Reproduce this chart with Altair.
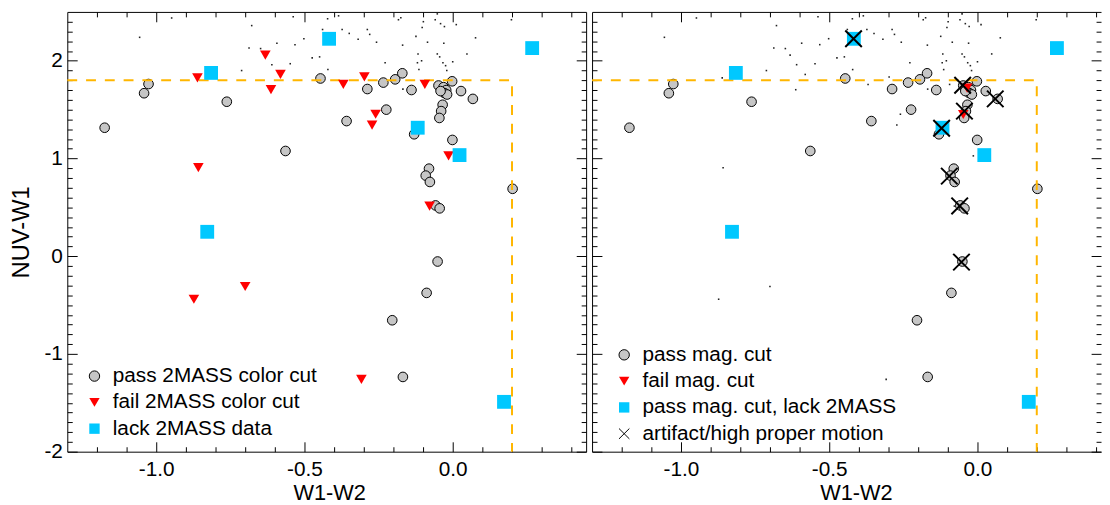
import altair as alt
import pandas as pd

FONT = "Liberation Sans"

# ---------------- data ----------------
pass_x = [-1.174, -1.041, -1.026, -0.762, -0.564, -0.446, -0.358, -0.288, -0.234, -0.224,
          -0.194, -0.170, -0.139, -0.130, -0.048, -0.002, -0.031, -0.022, -0.028, -0.019,
          -0.041, 0.028, 0.068, -0.034, -0.039, -0.045, -0.001, -0.080, -0.091, -0.077,
          0.202, -0.058, -0.044, -0.051, -0.088, -0.204, -0.168]
pass_y = [1.315, 1.668, 1.762, 1.581, 1.077, 1.819, 1.383, 1.711, 1.777, 1.500,
          1.810, 1.872, 1.701, 1.248, 1.747, 1.790, 1.730, 1.700, 1.670, 1.655,
          1.690, 1.690, 1.610, 1.550, 1.485, 1.415, 1.190, 0.896, 0.825, 0.760,
          0.690, 0.520, 0.490, -0.054, -0.375, -0.655, -1.235]

fail_x = [-0.861, -0.632, -0.581, -0.613, -0.858, -0.369, -0.298, -0.260, -0.272,
          -0.094, -0.014, -0.078, -0.873, -0.700, -0.308]
fail_y = [1.825, 2.058, 1.860, 1.704, 0.906, 1.758, 1.835, 1.453, 1.342,
          1.758, 1.027, 0.513, -0.440, -0.310, -1.260]

lack_x = [-0.815, -0.417, 0.268, -0.118, 0.023, -0.828, 0.173]
lack_y = [1.876, 2.225, 2.130, 1.315, 1.035, 0.250, -1.490]

bg_x = [-0.948, -1.056, -0.678, -0.687, -0.648, -0.610, -0.593, -0.548, -0.538, -0.532,
        -0.502, -0.474, -0.449, -0.439, -0.422, -0.421, -0.385, -0.373, -0.349, -0.319,
        -0.288, -0.280, -0.257, -0.228, -0.183, -0.175, -0.169, -0.124, -0.117, -0.119,
        -0.114, -0.105, -0.103, -0.099, -0.085, -0.059, -0.052, -0.052, -0.044, -0.041,
        -0.033, -0.028, -0.030, -0.024, -0.020, 0.012, 0.000, 0.048, 0.077, 0.198,
        -0.712, -0.168]
bg_y = [2.438, 2.240, 2.360, 2.130, 2.125, 1.960, 2.180, 1.970, 2.450, 2.165,
        2.226, 2.030, 2.040, 2.320, 2.430, 1.910, 2.460, 2.320, 2.280, 2.220,
        2.320, 2.270, 2.190, 1.980, 2.420, 2.440, 2.160, 2.250, 2.070, 1.980,
        1.910, 2.000, 2.340, 2.400, 2.190, 2.420, 2.480, 2.070, 2.040, 2.380,
        1.980, 2.350, 2.180, 1.950, 1.900, 2.370, 1.990, 2.070, 2.235, 2.420,
        1.900, 1.710]

magfail_x = [-0.035, -0.048]
magfail_y = [1.720, 1.450]

art_x = [-0.418, -0.121, -0.050, -0.044, 0.060, -0.095, -0.060, -0.054]
art_y = [2.225, 1.310, 1.750, 1.485, 1.610, 0.820, 0.515, -0.060]

cut_x = [-1.3, 0.2, 0.2]
cut_y = [1.8, 1.8, -2.0]

x_major = [-1.0, -0.5, 0.0]
x_minor = [-1.2, -1.1, -0.9, -0.8, -0.7, -0.6, -0.4, -0.3, -0.2, -0.1, 0.1, 0.2, 0.3, 0.4]
y_major = [-2, -1, 0, 1, 2]
y_minor = [-1.9, -1.8, -1.7, -1.6, -1.5, -1.4, -1.3, -1.2, -1.1,
           -0.9, -0.8, -0.7, -0.6, -0.5, -0.4, -0.3, -0.2, -0.1,
           0.1, 0.2, 0.3, 0.4, 0.5, 0.6, 0.7, 0.8, 0.9,
           1.1, 1.2, 1.3, 1.4, 1.5, 1.6, 1.7, 1.8, 1.9,
           2.1, 2.2, 2.3, 2.4]

left_cats = ["pass 2MASS color cut", "fail 2MASS color cut", "lack 2MASS data"]
right_cats = ["pass mag. cut", "fail mag. cut", "pass mag. cut, lack 2MASS",
              "artifact/high proper motion"]

GRAY = "#c6c6c6"
RED = "#ff0000"
CYAN = "#00c8ff"
GOLD = "#ffb600"
XPATH = "M-1,-1L1,1M-1,1L1,-1"

H = 445
W_LEFT = 525
W_RIGHT = 515
X_LEFT = [-1.3, 0.45]
X_RIGHT = [-1.3, -1.3 + W_RIGHT / 300.0]
Y_DOM = [-2.0, 2.5]

LAB_X = "(datum.value < 0 ? '-' : '') + format(abs(datum.value), '.1f')"
LAB_Y = "(datum.value < 0 ? '-' : '') + format(abs(datum.value), 'd')"

carrier = pd.DataFrame({"x": [0.0], "y": [0.0]})


def df(xs, ys, cat):
    return pd.DataFrame({"x": xs, "y": ys, "cat": [cat] * len(xs)})


def tick_axis(orient, values, size, labels=False, expr=None, title=None, tpad=0,
              tfs=22, tx=None):
    kw = dict(orient=orient, values=values, tickSize=size, offset=-size, domain=False,
              grid=False, tickColor="black", tickWidth=1, labels=labels, title=title)
    if labels:
        kw.update(labelExpr=expr, labelFont=FONT, labelFontSize=21, labelColor="black",
                  labelFlush=False, labelOverlap=False,
                  labelPadding=7.5 if orient == "bottom" else 5)
    if title is not None:
        kw.update(titleFont=FONT, titleFontSize=tfs, titleFontWeight="normal",
                  titleColor="black", titlePadding=tpad)
        if tx is not None:
            kw.update(titleX=tx)
    return alt.Axis(**kw)


def frame_axis(orient):
    return alt.Axis(orient=orient, domain=True, domainColor="black", domainWidth=1,
                    ticks=False, labels=False, grid=False, title=None, offset=0)


def panel(side):
    xs = alt.Scale(domain=X_LEFT if side == "left" else X_RIGHT, nice=False, zero=False)
    ys = alt.Scale(domain=Y_DOM, nice=False, zero=False)
    cats = left_cats if side == "left" else right_cats
    if side == "left":
        fills = [GRAY, RED, CYAN]
        strokes = ["black", "transparent", "transparent"]
        shapes = ["circle", "triangle-down", "square"]
        lx, ly = 17, 358
    else:
        fills = [GRAY, RED, CYAN, "transparent"]
        strokes = ["black", "transparent", "transparent", "black"]
        shapes = ["circle", "triangle-down", "square", XPATH]
        lx, ly = 22, 336.5

    leg = alt.Legend(orient="none", legendX=lx, legendY=ly, title=None,
                     labelFont=FONT, labelFontSize=21, labelColor="black", labelLimit=0,
                     symbolSize=110, symbolStrokeWidth=1, rowPadding=4.6,
                     labelOffset=8, padding=0)

    def enc(chart):
        return chart.encode(
            x=alt.X("x:Q", scale=xs, axis=None),
            y=alt.Y("y:Q", scale=ys, axis=None),
            shape=alt.Shape("cat:N", scale=alt.Scale(domain=cats, range=shapes), legend=leg),
            fill=alt.Fill("cat:N", scale=alt.Scale(domain=cats, range=fills), legend=leg),
            stroke=alt.Stroke("cat:N", scale=alt.Scale(domain=cats, range=strokes), legend=leg),
        )

    def ax(xa, ya):
        return alt.Chart(carrier).mark_point(opacity=0).encode(
            x=alt.X("x:Q", scale=xs, axis=xa),
            y=alt.Y("y:Q", scale=ys, axis=ya))

    is_left = side == "left"
    layers = [
        ax(tick_axis("bottom", x_major, 10, True, LAB_X, "W1-W2", 3, 22,
                     265 if is_left else 267),
           tick_axis("left", y_major, 10, is_left, LAB_Y if is_left else None,
                     "NUV-W1" if is_left else None, 11, 24)),
        ax(tick_axis("bottom", x_minor, 5), tick_axis("left", y_minor, 5)),
        ax(tick_axis("top", x_major, 10), tick_axis("right", y_major, 10)),
        ax(tick_axis("top", x_minor, 5), tick_axis("right", y_minor, 5)),
        ax(frame_axis("bottom"), frame_axis("left")),
        ax(frame_axis("top"), frame_axis("right") if is_left else None),
    ]

    dots_x = bg_x if is_left else bg_x + fail_x
    dots_y = bg_y if is_left else bg_y + fail_y
    dots = alt.Chart(pd.DataFrame({"x": dots_x, "y": dots_y})).mark_square(
        size=2.5, color="#222222", opacity=1).encode(
        x=alt.X("x:Q", scale=xs, axis=None), y=alt.Y("y:Q", scale=ys, axis=None))
    layers.append(dots)

    circles = enc(alt.Chart(df(pass_x, pass_y, cats[0])).mark_point(
        size=95, strokeWidth=1, opacity=1, filled=True))
    layers.append(circles)

    cut = alt.Chart(pd.DataFrame({"x": cut_x, "y": cut_y, "o": [0, 1, 2]})).mark_line(
        color=GOLD, strokeWidth=2, strokeDash=[10, 9]).encode(
        x=alt.X("x:Q", scale=xs, axis=None), y=alt.Y("y:Q", scale=ys, axis=None),
        order="o:Q")
    layers.append(cut)

    if is_left:
        tri = enc(alt.Chart(df(fail_x, fail_y, cats[1])).mark_point(
            size=115, strokeWidth=0, opacity=1, filled=True))
        sq = enc(alt.Chart(df(lack_x, lack_y, cats[2])).mark_point(
            size=196, strokeWidth=0, opacity=1, filled=True))
        layers += [tri, sq]
    else:
        tri = enc(alt.Chart(df(magfail_x, magfail_y, cats[1])).mark_point(
            size=115, strokeWidth=0, opacity=1, filled=True))
        sq = enc(alt.Chart(df(lack_x, lack_y, cats[2])).mark_point(
            size=196, strokeWidth=0, opacity=1, filled=True))
        xm = enc(alt.Chart(df(art_x, art_y, cats[3])).mark_point(
            size=280, strokeWidth=2, opacity=1, filled=False))
        layers += [tri, sq, xm]

    return alt.layer(*layers).resolve_axis(x="independent", y="independent").properties(
        width=W_LEFT if is_left else W_RIGHT, height=H)


chart = alt.hconcat(panel("left"), panel("right"), spacing=0).resolve_scale(
    x="independent", y="independent", shape="independent", fill="independent",
    stroke="independent").resolve_legend(
    shape="independent", fill="independent", stroke="independent").properties(
    padding={"left": 0, "top": 0, "right": 0, "bottom": 0}
).configure_view(stroke="transparent")

chart.save("out.html", embed_options={"renderer": "svg", "actions": False})
